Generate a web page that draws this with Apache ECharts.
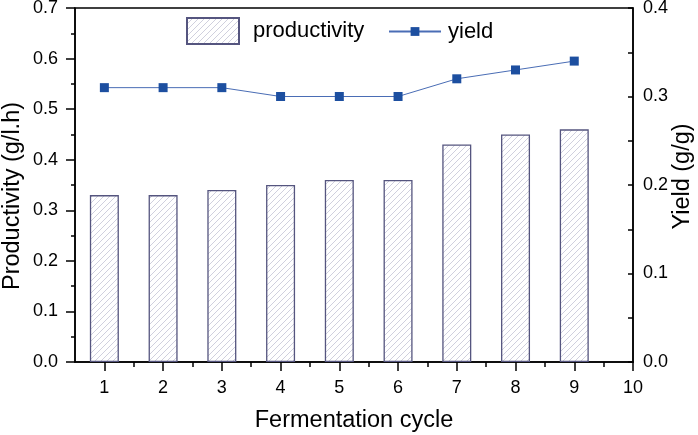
<!DOCTYPE html>
<html>
<head>
<meta charset="utf-8">
<script src="https://cdn.jsdelivr.net/npm/echarts@6/dist/echarts.min.js"></script>
<style>
html,body{margin:0;padding:0;background:#fff;}
#chart{width:698px;height:435px;}
</style>
</head>
<body>
<div id="chart"></div>
<script>
// ---- data ----
var cycles = [1, 2, 3, 4, 5, 6, 7, 8, 9];
var productivity = [0.33, 0.33, 0.34, 0.35, 0.36, 0.36, 0.43, 0.45, 0.46];
var yieldValues = [0.31, 0.31, 0.31, 0.30, 0.30, 0.30, 0.32, 0.33, 0.34];
var xTickLabels = [1, 2, 3, 4, 5, 6, 7, 8, 9, 10];
var xMinorTicks = [1.5, 2.5, 3.5, 4.5, 5.5, 6.5, 7.5, 8.5, 9.5];

// hatch pattern
var pc = document.createElement('canvas');
pc.width = 6; pc.height = 6;
var ctx = pc.getContext('2d');
ctx.fillStyle = '#ffffff';
ctx.fillRect(0, 0, 6, 6);
ctx.strokeStyle = '#c4c4d6';
ctx.lineWidth = 0.8;
ctx.beginPath();
ctx.moveTo(-1, 7); ctx.lineTo(7, -1);
ctx.moveTo(-1, 1); ctx.lineTo(1, -1);
ctx.moveTo(5, 7); ctx.lineTo(7, 5);
ctx.stroke();

var FONT = 'Liberation Sans, Arial, sans-serif';
var chart = echarts.init(document.getElementById('chart'), null, {renderer: 'canvas'});

var barData = cycles.map(function (c, i) { return [c, productivity[i]]; });
var lineData = cycles.map(function (c, i) { return [c, yieldValues[i]]; });

chart.setOption({
  animation: false,
  backgroundColor: '#ffffff',
  textStyle: {fontFamily: FONT},
  grid: {
    left: 75, right: 65, top: 8, bottom: 73,
    show: true, borderColor: '#000', borderWidth: 1.5,
    backgroundColor: 'transparent',
    outerBoundsMode: 'none'
  },
  legend: [{
    data: ['productivity'],
    icon: 'rect',
    left: 186, top: 17, padding: 0,
    itemWidth: 52, itemHeight: 26,
    textStyle: {fontSize: 22, color: '#000', fontFamily: FONT, padding: [0, 0, 0, 9]}
  }, {
    data: ['yield'],
    left: 388, top: 20.5, padding: 0,
    itemWidth: 52, itemHeight: 11,
    textStyle: {fontSize: 22, color: '#000', fontFamily: FONT, padding: [0, 0, 0, 2]}
  }],
  xAxis: [{
    type: 'value', min: 0.5, max: 10,
    name: 'Fermentation cycle', nameLocation: 'middle', nameGap: 47, nameMoveOverlap: false,
    nameTextStyle: {fontSize: 23.5, color: '#000', fontFamily: FONT},
    axisLine: {show: true, lineStyle: {color: '#000', width: 1.5}},
    axisTick: {show: true, length: 9, customValues: xTickLabels, lineStyle: {color: '#000', width: 1.5}},
    axisLabel: {show: true, customValues: xTickLabels, fontSize: 18, color: '#000', margin: 17, fontFamily: FONT},
    splitLine: {show: false}
  }, {
    type: 'value', min: 0.5, max: 10, position: 'bottom',
    axisLine: {show: false},
    axisTick: {show: true, length: 5, customValues: xMinorTicks, lineStyle: {color: '#000', width: 1.5}},
    axisLabel: {show: false},
    splitLine: {show: false}
  }],
  yAxis: [{
    type: 'value', min: 0, max: 0.7, interval: 0.1, position: 'left',
    name: 'Productivity (g/l.h)', nameLocation: 'middle', nameGap: 50, nameMoveOverlap: false,
    nameTextStyle: {fontSize: 23.5, color: '#000', fontFamily: FONT, padding: [0, 22, 0, 0]},
    axisLine: {show: true, lineStyle: {color: '#000', width: 1.5}},
    axisTick: {show: true, length: 9, lineStyle: {color: '#000', width: 1.5}},
    minorTick: {show: true, splitNumber: 2, length: 4, lineStyle: {color: '#000', width: 1.5}},
    axisLabel: {fontSize: 18, color: '#000', margin: 17, fontFamily: FONT,
      formatter: function (v) { return v.toFixed(1); }},
    splitLine: {show: false}
  }, {
    type: 'value', min: 0, max: 0.4, interval: 0.1, position: 'right',
    name: 'Yield (g/g)', nameLocation: 'middle', nameGap: 38, nameMoveOverlap: false,
    nameTextStyle: {fontSize: 23.5, color: '#000', fontFamily: FONT, padding: [0, 0, 0, 17]},
    axisLine: {show: true, lineStyle: {color: '#000', width: 1.5}},
    axisTick: {show: true, inside: true, length: 5, lineStyle: {color: '#000', width: 1.5}},
    minorTick: {show: true, splitNumber: 2, length: 5, lineStyle: {color: '#000', width: 1.5}},
    axisLabel: {fontSize: 18, color: '#000', margin: 10, fontFamily: FONT,
      formatter: function (v) { return v.toFixed(1); }},
    splitLine: {show: false}
  }],
  series: [{
    name: 'productivity', type: 'bar',
    xAxisIndex: 0, yAxisIndex: 0,
    barWidth: 29,
    data: barData,
    itemStyle: {
      color: {image: pc, repeat: 'repeat'},
      borderColor: '#55557f', borderWidth: 1.3
    }
  }, {
    name: 'yield', type: 'line',
    xAxisIndex: 0, yAxisIndex: 1,
    data: lineData,
    symbol: 'rect', symbolSize: 9,
    itemStyle: {color: '#1d4fa0'},
    lineStyle: {color: '#4a6db5', width: 1}
  }]
});
</script>
</body>
</html>
